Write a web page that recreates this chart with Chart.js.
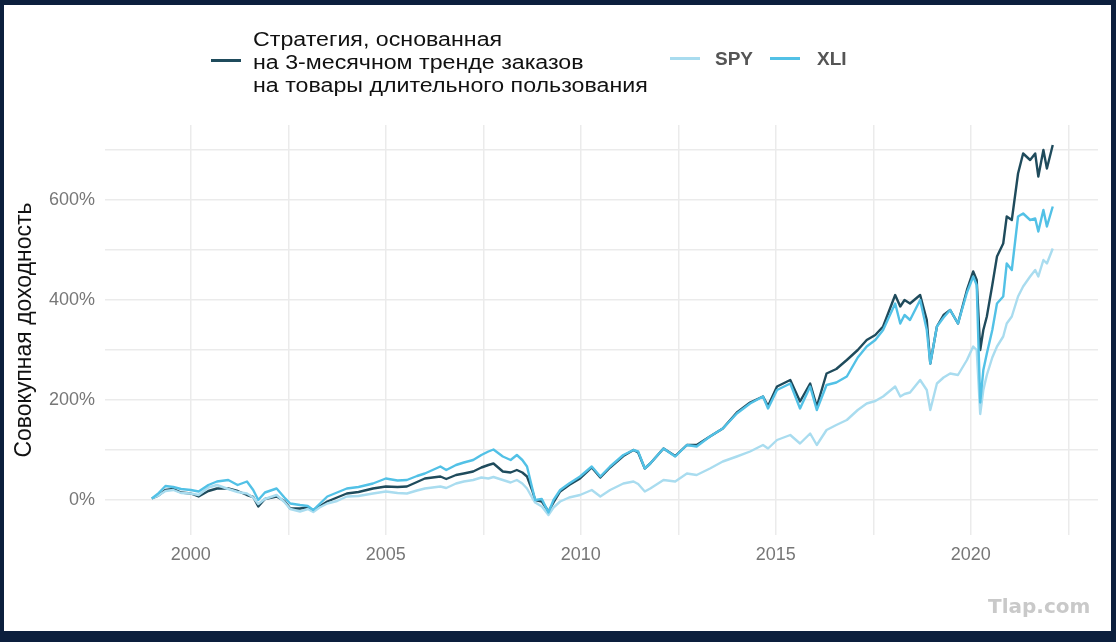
<!DOCTYPE html>
<html lang="ru">
<head>
<meta charset="utf-8">
<title>Совокупная доходность</title>
<script src="https://cdn.jsdelivr.net/npm/chart.js@4.4.1/dist/chart.umd.min.js"></script>
<style>
  html, body { margin: 0; padding: 0; }
  body {
    width: 1116px; height: 642px; position: relative; overflow: hidden;
    background: #0c1f3d;
    font-family: "Liberation Sans", Arial, sans-serif;
  }
  #panel { position: absolute; left: 4px; top: 5px; width: 1107px; height: 626px; background: #fff; }
  #wrap { position: absolute; left: 0; top: 0; width: 1116px; height: 642px; }
  .legend-text {
    position: absolute; color: #111; font-size: 20px; line-height: 23px; white-space: pre;
    transform: scaleX(1.16); transform-origin: 0 0;
  }
  .legend-key { position: absolute; height: 3px; width: 30px; }
  .legend-short { position: absolute; color: #555; font-size: 19px; font-weight: bold; line-height: 23px; }
  #mark {
    position: absolute; left: 988px; top: 594px; color: #c9c9c9;
    font-family: "DejaVu Sans", sans-serif; font-weight: bold; font-size: 20px;
  }
</style>
</head>
<body>
<div id="panel"></div>
<div id="wrap"><canvas id="returnsChart"></canvas></div>
<div id="legend"></div>
<div id="mark">Tlap.com</div>

<script>
// values (cumulative return, %)
const dates = [
  1999.00, 1999.15, 1999.35, 1999.55, 1999.75, 2000.00, 2000.20, 2000.45, 2000.67, 2000.96,
  2001.20, 2001.44, 2001.60, 2001.73, 2001.90, 2002.20, 2002.40, 2002.55, 2002.80, 2003.00,
  2003.14, 2003.30, 2003.50, 2003.75, 2004.00, 2004.30, 2004.67, 2005.00, 2005.30, 2005.54,
  2005.80, 2006.00, 2006.40, 2006.55, 2006.80, 2007.00, 2007.24, 2007.45, 2007.63, 2007.76,
  2008.00, 2008.20, 2008.36, 2008.50, 2008.62, 2008.75, 2008.83, 2009.00, 2009.17, 2009.30,
  2009.47, 2009.70, 2009.98, 2010.28, 2010.50, 2010.75, 2011.09, 2011.35, 2011.47, 2011.64,
  2011.78, 2012.12, 2012.42, 2012.72, 2012.97, 2013.31, 2013.64, 2014.00, 2014.34, 2014.67,
  2014.80, 2015.03, 2015.37, 2015.62, 2015.88, 2016.05, 2016.30, 2016.55, 2016.82, 2017.10,
  2017.33, 2017.55, 2017.75, 2018.06, 2018.19, 2018.30, 2018.44, 2018.70, 2018.87, 2018.96,
  2019.13, 2019.30, 2019.47, 2019.67, 2019.90, 2020.06, 2020.15, 2020.24, 2020.32, 2020.41,
  2020.55, 2020.67, 2020.83, 2020.92, 2021.05, 2021.21, 2021.34, 2021.52, 2021.65, 2021.73,
  2021.86, 2021.95, 2022.10
];

const strategy = [
  3, 8, 20, 22, 15, 13, 7, 18, 23, 23,
  18, 10, 6, -13, 2, 7, -2, -17, -17, -15,
  -20, -13, -3, 5, 13, 16, 23, 27, 26, 27,
  36, 43, 47, 42, 50, 53, 57, 65, 70, 73,
  57, 55, 60, 55, 47, 20, 0, -3, -23, -5,
  17, 30, 43, 65, 45, 65, 88, 100, 95, 63,
  73, 103, 88, 110, 110, 127, 143, 175, 195, 207,
  188, 227, 240, 197, 233, 187, 253, 262, 280, 300,
  320, 330, 347, 410, 387, 400, 393, 410, 360, 273,
  347, 370, 380, 353, 420, 457, 440, 300, 340, 367,
  430, 487, 513, 567, 560, 653, 693, 680, 693, 647,
  700, 663, 710
];

const spy = [
  3, 8, 18, 20, 14, 13, 10, 25, 30, 22,
  16, 13, 5, -8, 2, 10, -4, -18, -23, -18,
  -24, -15, -7, -2, 7, 8, 13, 17, 14, 13,
  19, 23, 27, 24, 33, 37, 40, 45, 43, 46,
  40, 35, 40, 33, 23, 5, -5, -13, -30, -15,
  -3, 5, 10, 20, 7, 20, 33, 37, 32, 17,
  23, 40, 37, 53, 50, 63, 77, 87, 97, 110,
  103, 120, 130, 113, 133, 110, 140, 150, 160, 180,
  193, 198, 207, 227, 207, 212, 215, 240, 220, 180,
  233, 245, 253, 250, 280, 307, 300, 172, 220, 250,
  285, 307, 327, 353, 367, 407, 427, 447, 460, 447,
  480, 473, 503
];

const xli = [
  3, 12, 28, 26, 22, 20, 17, 30, 37, 40,
  30, 37, 20, 0, 15, 23, 5, -7, -10, -12,
  -20, -8, 7, 15, 23, 26, 33, 43, 39, 40,
  48, 53, 67, 60, 70, 75, 80, 90, 97, 101,
  87, 80, 90, 80, 67, 25, 0, 2, -25, 0,
  20, 33, 47, 67, 47, 67, 90, 100, 97, 63,
  73, 103, 87, 110, 107, 127, 143, 173, 193, 207,
  183, 220, 233, 183, 227, 180, 230, 235, 247, 285,
  307, 320, 340, 393, 353, 370, 360, 400, 340, 273,
  347, 365, 380, 353, 415, 447, 430, 195, 260, 293,
  340, 393, 407, 473, 460, 567, 573, 560, 563, 537,
  580, 547, 587
];

const seriesNames = [
  'Стратегия, основанная\nна 3-месячном тренде заказов\nна товары длительного пользования',
  'SPY',
  'XLI'
];
const seriesColors = ['#1f4b5c', '#a9dcef', '#52c1e6'];

const xGridValues = [2000, 2002.5, 2005, 2007.5, 2010, 2012.5, 2015, 2017.5, 2020, 2022.5];
const xTickLabels = ['2000', '2005', '2010', '2015', '2020'];
const yGridValues = [0, 100, 200, 300, 400, 500, 600, 700];
const yTickLabels = ['0%', '200%', '400%', '600%'];
const yTitle = 'Совокупная доходность';

// html legend (the first entry wraps over three lines)
const legend = document.getElementById('legend');
function addKey(left, top, color) {
  const k = document.createElement('div');
  k.className = 'legend-key';
  k.style.left = left + 'px';
  k.style.top = top + 'px';
  k.style.background = color;
  legend.appendChild(k);
}
function addText(cls, left, top, text) {
  const t = document.createElement('div');
  t.className = cls;
  t.style.left = left + 'px';
  t.style.top = top + 'px';
  t.textContent = text;
  legend.appendChild(t);
}
addKey(211, 59, seriesColors[0]);
addText('legend-text', 253, 28, seriesNames[0]);
addKey(670, 57, seriesColors[1]);
addText('legend-short', 715, 47, seriesNames[1]);
addKey(770, 57, seriesColors[2]);
addText('legend-short', 817, 47, seriesNames[2]);

const toPoints = (vals) => dates.map((d, i) => ({ x: d, y: vals[i] }));

const ctx = document.getElementById('returnsChart').getContext('2d');
new Chart(ctx, {
  type: 'line',
  data: {
    datasets: [
      { label: 'Стратегия', data: toPoints(strategy), borderColor: seriesColors[0], order: 3 },
      { label: seriesNames[1], data: toPoints(spy), borderColor: seriesColors[1], order: 2 },
      { label: seriesNames[2], data: toPoints(xli), borderColor: seriesColors[2], order: 1 }
    ]
  },
  options: {
    responsive: true,
    maintainAspectRatio: false,
    animation: false,
    layout: { padding: { left: 0, right: 18, top: 125, bottom: 0 } },
    elements: {
      line: { borderWidth: 2.4, tension: 0, borderJoinStyle: 'round' },
      point: { radius: 0 }
    },
    scales: {
      x: {
        type: 'linear',
        min: 1997.8,
        max: 2023.26,
        afterFit: (s) => { s.height = 107; },
        afterBuildTicks: (s) => { s.ticks = xGridValues.map((v) => ({ value: v })); },
        grid: { color: '#ebebeb', lineWidth: 1.5, drawTicks: false },
        border: { display: false },
        ticks: {
          autoSkip: false,
          maxRotation: 0,
          padding: 9,
          color: '#777',
          font: { family: '"Liberation Sans", Arial, sans-serif', size: 18 },
          callback: (v) => {
            const i = (v - 2000) / 5;
            return Number.isInteger(i) ? xTickLabels[i] : '';
          }
        }
      },
      y: {
        min: -70,
        max: 750,
        afterFit: (s) => { s.width = 105; },
        afterBuildTicks: (s) => { s.ticks = yGridValues.map((v) => ({ value: v })); },
        grid: { color: '#ebebeb', lineWidth: 1.5, drawTicks: false },
        border: { display: false },
        title: {
          display: true,
          text: yTitle,
          color: '#111',
          padding: { top: 11, bottom: 0 },
          font: { family: '"Liberation Sans", Arial, sans-serif', size: 23 }
        },
        ticks: {
          autoSkip: false,
          padding: 10,
          color: '#777',
          font: { family: '"Liberation Sans", Arial, sans-serif', size: 18 },
          callback: (v) => (v % 200 === 0 ? yTickLabels[v / 200] : '')
        }
      }
    },
    plugins: {
      legend: { display: false },
      tooltip: { enabled: false }
    }
  }
});
</script>
</body>
</html>
